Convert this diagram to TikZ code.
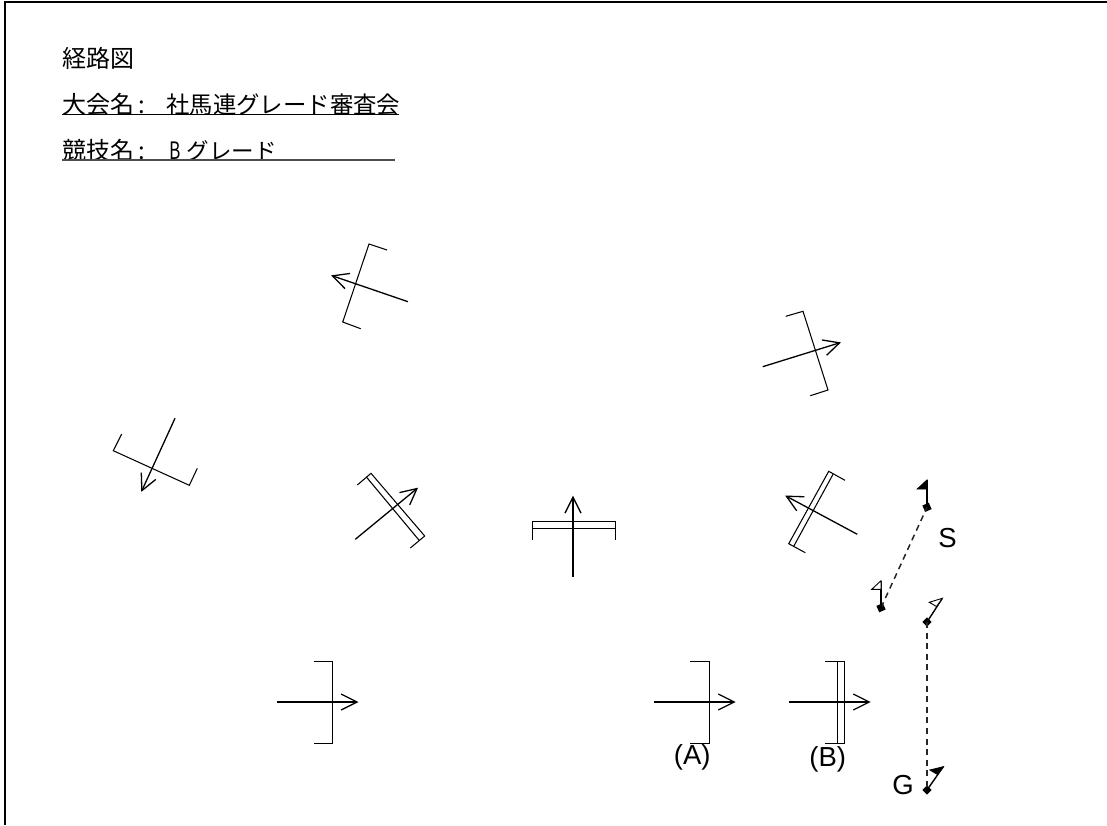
\documentclass[tikz,border=0pt]{standalone}
\usepackage{fontspec}
\setmainfont{Liberation Sans}
\newfontfamily\jpfont{Noto Sans CJK JP}
\usetikzlibrary{arrows.meta}
\tikzset{
  route/.style={line width=1.3pt,shorten >=-1pt,-{Straight Barb[length=16pt,width=16pt,line width=1.3pt]}},
  barline/.style={line width=1.05pt,line join=miter},
  pole/.style={line width=1.4pt},
  marker/.style={fill=black,inner sep=0pt,minimum size=7pt},
  openflag/.style={draw=black,fill=white,line width=0.9pt},
  solidflag/.style={draw=black,fill=black,line width=0.9pt},
  dashline/.style={line width=1.5pt,dash pattern=on 6pt off 4.6pt,black!85},
  jptext/.style={font=\jpfont\fontsize{24pt}{26pt}\selectfont,anchor=base west,inner sep=0pt},
  jpnarrow/.style={jptext,font=\jpfont\fontsize{23.4pt}{26pt}\selectfont},
  jpsmall/.style={jptext,font=\jpfont\fontsize{22.5pt}{26pt}\selectfont},
  label/.style={font=\fontsize{27.5pt}{30pt}\selectfont,inner sep=0pt},
  uline/.style={line width=1.2pt}
}
\begin{document}
\begin{tikzpicture}[x=1pt,y=-1pt]
\useasboundingbox (0,0) rectangle (1107,825);
% frame
\draw[line width=2.2pt] (5,825) -- (5,2) -- (1107,2);
% heading
\node[jptext] (title) at (62.5,67.5) {経路図};
\node[jptext] (meet1) at (62.5,113) {大会名};
\node[jptext] (meet2) at (138.5,113) {:};
\node[jpnarrow] (meet3) at (166,113) {社馬連グレード審査会};
\node[jptext] (comp1) at (62.5,159) {競技名};
\node[jptext] (comp2) at (138.5,159) {:};
\node[jptext,xscale=0.72] (comp3) at (169.5,159) {B};
\node[jpsmall] (comp4) at (186.5,159) {グレード};
\draw[uline] (62,114.5) -- (398.5,114.5);
\draw[uline,black!70] (62,160) -- (395,160);
% upper left, closed bar
\draw[barline] (387,250) -- (369,244) -- (342.7,322) -- (360.7,328.7);
\draw[route] (408,301.7) -- (332,275.7);
% far left
\draw[barline] (121.7,434) -- (113.3,450.7) -- (189.3,485.3) -- (197.3,468.3);
\draw[route] (175,418.3) -- (141.7,491);
% upper right
\draw[barline] (785.7,316.3) -- (803,311.3) -- (828,390) -- (810.3,395.7);
\draw[route] (762.7,366.7) -- (840,342.7);
% right double
\draw[barline] (845,480.3) -- (828.7,471.3) -- (788.7,543.7) -- (805.3,552.7);
\draw[barline] (833,474.3) -- (793.7,546.3);
\draw[route] (857.3,534.3) -- (786,496);
% left double
\draw[barline] (357.3,485) -- (371,473.3) -- (424.7,536) -- (410.3,548);
\draw[barline] (366.3,476.9) -- (419.3,540.5);
\draw[route] (355.3,539.3) -- (417.3,488.3);
% centre double
\draw[barline] (532.3,540) -- (532.3,521.7) -- (615.3,521.7) -- (615.3,540);
\draw[barline] (532.3,528.3) -- (615.3,528.3);
\draw[route] (573,576.7) -- (573,496.7);
% bottom left
\draw[barline] (313.5,661.3) -- (332.3,661.3) -- (332.3,743.7) -- (313.5,743.7);
\draw[route] (277,702) -- (357.5,702);
% (A)
\draw[barline] (690.3,661.3) -- (709.3,661.3) -- (709.3,743.7) -- (690.3,743.7);
\draw[route] (654,702) -- (734.7,702);
\node[label] (labA) at (692.3,757) {(A)};
% (B)
\draw[barline] (825.3,661.3) -- (844.3,661.3) -- (844.3,743.7) -- (825.3,743.7);
\draw[barline] (837.3,661.3) -- (837.3,743.7);
\draw[route] (789,702) -- (869.7,702);
\node[label] (labB) at (827.7,759) {(B)};
% start
\node[marker,rotate=24] (S1) at (927,507.3) {};
\node[marker,rotate=24] (S2) at (881,607.7) {};
\draw[dashline] (S2.center) -- (S1.center);
\draw[pole] (S1.center) -- (927,480);
\draw[solidflag] (927,480) -- (917.3,489) -- (927,489) -- cycle;
\draw[pole] (S2.center) -- (881,580.7);
\draw[openflag] (881,580.7) -- (871.7,589.3) -- (881,589.3) -- cycle;
\node[label] (labS) at (947.5,538.5) {S};
% goal
\node[marker,rotate=45,minimum size=6.5pt] (G1) at (927,622) {};
\node[marker,rotate=45,minimum size=6.5pt] (G2) at (927,790) {};
\draw[dashline] (G1.center) -- (G2.center);
\draw[pole] (G1.center) -- (942.3,598.3);
\draw[openflag] (942.3,598.3) -- (929.3,602.3) -- (936.5,606.5) -- cycle;
\draw[pole] (G2.center) -- (943.3,766.7);
\draw[solidflag] (943.3,766.7) -- (930,770) -- (937.3,774.3) -- cycle;
\node[label] (labG) at (903,785.5) {G};
\end{tikzpicture}
\end{document}
